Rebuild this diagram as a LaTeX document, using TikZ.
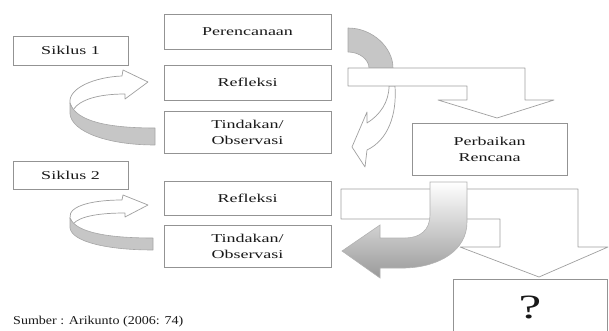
\documentclass[tikz,border=0pt]{standalone}
\usepackage{fontspec}
\setmainfont[FakeStretch=1.5]{Liberation Serif}
\newfontfamily\sumberfont[FakeStretch=1.17]{Liberation Serif}
\usetikzlibrary{positioning}

\begin{document}
\begin{tikzpicture}[
    x=1pt, y=-1pt,
    every node/.style={font=\fontsize{12}{16}\selectfont, text=black!90},
    kotak/.style={draw=gray!85, line width=0.8pt, fill=white, align=center, inner sep=0pt},
    panah/.style={draw=gray!75, line width=0.7pt, fill=white, line join=round},
    bayang/.style={draw=gray!70, line width=0.6pt, fill=gray!45, line join=round}
  ]
  \useasboundingbox (0,0) rectangle (609,331);

  % label siklus
  \node[kotak, minimum width=115, minimum height=29] (siklus1) at (70.5,50.5) {Siklus 1};
  \node[kotak, minimum width=115, minimum height=28] (siklus2) at (70.5,175) {Siklus 2};

  % kolom kegiatan
  \foreach \nama/\y/\h/\isi in {rencana/31.5/35/Perencanaan, refleksi1/82.5/35/Refleksi,
      tindakan1/132/42/{Tindakan/\\Observasi}, refleksi2/198/34/Refleksi,
      tindakan2/246/42/{Tindakan/\\Observasi}}
    {
      \node[kotak, minimum width=167, minimum height=\h] (\nama) at (247.5,\y) {\isi};
    };

  % putaran siklus 1
  \draw[panah] (70,103) .. controls (68,88) and (95,77) .. (122,76) -- (123,70) -- (148,82)
    -- (125,99) -- (125,94) .. controls (100,94) and (80,99) .. (73,110) -- cycle;
  \draw[bayang] (70,103) .. controls (76,122) and (110,128) .. (155,128) -- (155,145)
    .. controls (108,145) and (72,132) .. (70,114) -- cycle;

  % putaran siklus 2
  \draw[panah] (70,218) .. controls (68,205) and (95,200) .. (122,200) -- (123,195) -- (148,205)
    -- (125,217) -- (125,213) .. controls (100,213) and (80,216) .. (73,224) -- cycle;
  \draw[bayang] (70,218) .. controls (76,233) and (110,238) .. (153,238) -- (153,250)
    .. controls (108,250) and (72,242) .. (70,228) -- cycle;

  % putaran kanan atas
  \draw[bayang] (348,28) .. controls (373,28) and (393,48) .. (393,68) -- (369,68)
    .. controls (369,60) and (360,52) .. (348,52) -- cycle;
  \draw[panah] (395,86) .. controls (397,115) and (388,140) .. (367,150) -- (365,167) -- (352,147)
    -- (367,112) -- (367,123) .. controls (380,115) and (389,102) .. (389,86) -- cycle;

  % panah ke perbaikan dan ke siklus berikut
  \draw[panah] (348,68) -- (525,68) -- (525,100) -- (554,100) -- (497,118) -- (438,100)
    -- (467,100) -- (467,86) -- (348,86) -- cycle;
  \node[kotak, minimum width=155, minimum height=52] (perbaikan) at (489.5,149) {Perbaikan\\Rencana};
  \draw[panah] (341,189) -- (578,189) -- (578,247) -- (608,247) -- (539,277) -- (460,247)
    -- (500,247) -- (500,219) -- (341,219) -- cycle;
  \shade[top color=white, bottom color=gray!80, draw=gray!60, line width=0.6pt]
    (430,182) -- (467,182) -- (467,222) .. controls (467,250) and (440,267) .. (405,268)
    -- (380,268) -- (380,278) -- (342,251) -- (380,225) -- (380,238) -- (405,238)
    .. controls (420,238) and (430,230) .. (430,215) -- cycle;

  \node[kotak, minimum width=154, minimum height=56, font=\fontsize{34}{34}\selectfont] (tanya) at (530,307) {?};
  \node[anchor=west, inner sep=0pt, font=\fontsize{12}{14}\sumberfont] (sumber) at (13,322) {Sumber : Arikunto (2006: 74)};
\end{tikzpicture}
\end{document}
